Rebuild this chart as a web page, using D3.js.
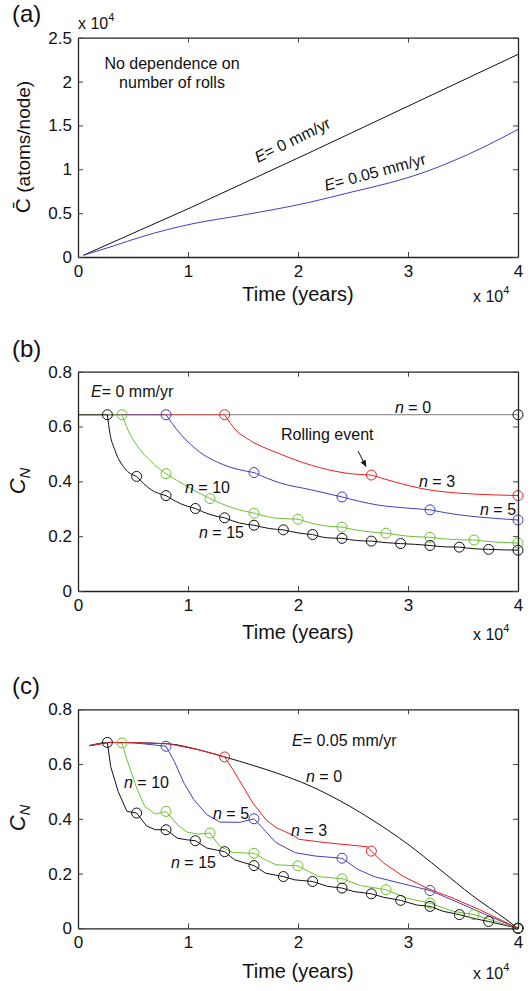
<!DOCTYPE html>
<html>
<head>
<meta charset="utf-8">
<script src="https://cdn.jsdelivr.net/npm/d3@7"></script>
<style>
  body { margin: 0; background: #fff; }
  svg { display: block; }
  text { font-family: "Liberation Sans", Arial, Helvetica, sans-serif; fill: #111; }
</style>
</head>
<body>
<svg id="fig" width="531" height="991"></svg>
<script>
// ---------- shared axis ticks (time in units of 10^4 years) ----------
const timeTicks = [0, 1, 2, 3, 4];
const timeTickLabels = ["0", "1", "2", "3", "4"];
const cbarTicks = [0, 0.5, 1, 1.5, 2, 2.5];
const cbarTickLabels = ["0", "0.5", "1", "1.5", "2", "2.5"];
const cnTicks = [0, 0.2, 0.4, 0.6, 0.8];
const cnTickLabels = ["0", "0.2", "0.4", "0.6", "0.8"];

// ---------- (a) mean concentration, units of 10^4 atoms/node ----------
const aTimeE0 = [0.05, 1.03, 2.09, 4.0];
const aConcE0 = [0.02, 0.566, 1.181, 2.31];
const aTimeE05 = [0.05, 0.3, 0.6, 1.03, 1.5, 2.09, 2.5, 2.8, 3.0, 3.2, 3.4, 3.7, 4.0];
const aConcE05 = [0.02, 0.117, 0.239, 0.376, 0.478, 0.619, 0.744, 0.835, 0.905, 0.99, 1.09, 1.26, 1.455];

// ---------- (b) normalised concentration, E = 0 ----------
const bTime0 = [0, 4];
const bConc0 = [0.643, 0.643];
const bRollT0 = [4];
const bRollC0 = [0.643];

const bTime3 = [0, 1.333, 1.44, 1.53, 1.83, 2.12, 2.42, 2.667, 2.87, 3.16, 3.46, 3.76, 4.0];
const bConc3 = [0.643, 0.643, 0.585, 0.558, 0.501, 0.459, 0.431, 0.423, 0.399, 0.371, 0.357, 0.351, 0.348];
const bRollT3 = [1.333, 2.667, 4.0];
const bRollC3 = [0.643, 0.423, 0.348];

const bTime5 = [0, 0.8, 0.9, 1.08, 1.32, 1.6, 1.83, 2.12, 2.4, 2.72, 3.01, 3.2, 3.46, 3.76, 4.0];
const bConc5 = [0.643, 0.643, 0.588, 0.515, 0.461, 0.432, 0.395, 0.369, 0.343, 0.314, 0.302, 0.296, 0.278, 0.266, 0.259];
const bRollT5 = [0.8, 1.6, 2.4, 3.2, 4.0];
const bRollC5 = [0.643, 0.432, 0.343, 0.296, 0.259];

const bTime10 = [0, 0.4, 0.454, 0.543, 0.663, 0.8, 0.99, 1.2, 1.41, 1.6, 1.8, 2.0, 2.18, 2.4, 2.6, 2.8, 3.0, 3.2, 3.4, 3.6, 3.82, 4.0];
const bConc10 = [0.643, 0.643, 0.588, 0.527, 0.473, 0.428, 0.382, 0.337, 0.303, 0.284, 0.266, 0.262, 0.242, 0.233, 0.218, 0.211, 0.2, 0.196, 0.188, 0.186, 0.178, 0.175];
const bRollT10 = [0.4, 0.8, 1.2, 1.6, 2.0, 2.4, 2.8, 3.2, 3.6, 4.0];
const bRollC10 = [0.643, 0.428, 0.337, 0.284, 0.262, 0.233, 0.211, 0.196, 0.186, 0.175];

const bTime15 = [0, 0.267, 0.29, 0.334, 0.424, 0.533, 0.663, 0.8, 0.93, 1.067, 1.2, 1.333, 1.47, 1.6, 1.74, 1.867, 2.0, 2.133, 2.27, 2.4, 2.54, 2.667, 2.81, 2.933, 3.07, 3.2, 3.34, 3.467, 3.61, 3.733, 3.88, 4.0];
const bConc15 = [0.643, 0.643, 0.576, 0.515, 0.448, 0.418, 0.37, 0.348, 0.319, 0.301, 0.279, 0.267, 0.248, 0.24, 0.228, 0.223, 0.212, 0.206, 0.194, 0.192, 0.184, 0.182, 0.176, 0.173, 0.17, 0.166, 0.161, 0.16, 0.154, 0.152, 0.15, 0.149];
const bRollT15 = [0.267, 0.533, 0.8, 1.067, 1.333, 1.6, 1.867, 2.133, 2.4, 2.667, 2.933, 3.2, 3.467, 3.733, 4.0];
const bRollC15 = [0.643, 0.418, 0.348, 0.301, 0.267, 0.24, 0.223, 0.206, 0.192, 0.182, 0.173, 0.166, 0.16, 0.152, 0.149];

// ---------- (c) normalised concentration, E = 0.05 mm/yr ----------
const cTime0 = [0.1, 0.28, 0.5, 0.82, 1.1, 1.333, 1.6, 1.8, 2.1, 2.39, 2.69, 2.99, 3.29, 3.59, 3.89, 4.0];
const cConc0 = [0.667, 0.679, 0.678, 0.674, 0.652, 0.626, 0.594, 0.568, 0.522, 0.464, 0.392, 0.31, 0.215, 0.118, 0.033, 0.0];
const cRollT0 = [4.0];
const cRollC0 = [0.0];

const cTime3 = [0.1, 0.28, 0.5, 0.82, 1.1, 1.333, 1.41, 1.5, 1.59, 1.71, 1.8, 1.95, 2.01, 2.25, 2.63, 2.667, 2.78, 2.96, 3.17, 3.41, 3.65, 4.0];
const cConc3 = [0.667, 0.679, 0.678, 0.674, 0.652, 0.626, 0.579, 0.518, 0.457, 0.396, 0.368, 0.341, 0.325, 0.313, 0.298, 0.282, 0.238, 0.189, 0.147, 0.11, 0.068, 0.0];
const cRollT3 = [1.333, 2.667, 4.0];
const cRollC3 = [0.626, 0.282, 0.0];

const cTime5 = [0.1, 0.28, 0.5, 0.8, 0.875, 0.964, 1.053, 1.172, 1.29, 1.47, 1.6, 1.706, 1.8, 1.976, 2.155, 2.4, 2.54, 2.69, 2.93, 3.2, 3.47, 3.74, 4.0];
const cConc5 = [0.667, 0.679, 0.678, 0.665, 0.61, 0.53, 0.47, 0.415, 0.388, 0.387, 0.4, 0.354, 0.313, 0.276, 0.264, 0.256, 0.216, 0.189, 0.165, 0.138, 0.092, 0.044, 0.0];
const cRollT5 = [0.8, 1.6, 2.4, 3.2, 4.0];
const cRollC5 = [0.665, 0.4, 0.256, 0.138, 0.0];

const cTime10 = [0.1, 0.28, 0.4, 0.445, 0.534, 0.608, 0.703, 0.8, 0.905, 0.994, 1.098, 1.2, 1.29, 1.41, 1.6, 1.706, 1.8, 2.0, 2.185, 2.4, 2.57, 2.8, 2.99, 3.2, 3.41, 3.6, 4.0];
const cConc10 = [0.667, 0.679, 0.677, 0.616, 0.512, 0.445, 0.417, 0.427, 0.378, 0.351, 0.344, 0.348, 0.299, 0.277, 0.274, 0.25, 0.232, 0.228, 0.189, 0.181, 0.156, 0.141, 0.11, 0.092, 0.062, 0.05, 0.0];
const cRollT10 = [0.4, 0.8, 1.2, 1.6, 2.0, 2.4, 2.8, 3.2, 3.6, 4.0];
const cRollC10 = [0.677, 0.427, 0.348, 0.274, 0.228, 0.181, 0.141, 0.092, 0.05, 0.0];

const cTime15 = [0.1, 0.267, 0.297, 0.365, 0.445, 0.533, 0.623, 0.703, 0.8, 0.905, 0.994, 1.067, 1.172, 1.333, 1.424, 1.6, 1.706, 1.867, 1.97, 2.133, 2.27, 2.4, 2.51, 2.667, 2.78, 2.933, 3.08, 3.2, 3.32, 3.467, 3.62, 3.733, 4.0];
const cConc15 = [0.667, 0.679, 0.591, 0.5, 0.427, 0.421, 0.374, 0.36, 0.36, 0.329, 0.323, 0.32, 0.293, 0.28, 0.25, 0.229, 0.201, 0.189, 0.177, 0.171, 0.153, 0.147, 0.134, 0.126, 0.113, 0.102, 0.085, 0.08, 0.062, 0.05, 0.034, 0.025, 0.0];
const cRollT15 = [0.267, 0.533, 0.8, 1.067, 1.333, 1.6, 1.867, 2.133, 2.4, 2.667, 2.933, 3.2, 3.467, 3.733, 4.0];
const cRollC15 = [0.679, 0.421, 0.36, 0.32, 0.28, 0.229, 0.189, 0.171, 0.147, 0.126, 0.102, 0.08, 0.05, 0.025, 0.0];

// ---------- colours ----------
const RED = "#ee1c1c", BLUE = "#4040bd", GREEN = "#6cc230", BLACK = "#111", GREY = "#7a7a7a";

const svg = d3.select("#fig");
const X_LEFT = 78, X_RIGHT = 518;

const defs = svg.append("defs");
defs.append("marker").attr("id", "arrowhead")
  .attr("viewBox", "0 0 10 10").attr("refX", 9).attr("refY", 5)
  .attr("markerWidth", 7).attr("markerHeight", 7).attr("orient", "auto")
  .append("path").attr("d", "M0,1 L10,5 L0,9 Z").attr("fill", "#111");

function styleAxis(g, fontSize) {
  g.attr("font-family", null).attr("font-size", null);
  g.selectAll(".tick line").attr("stroke", "#444").attr("stroke-width", 1);
  g.selectAll(".domain").attr("stroke", "#222").attr("stroke-width", 1.3);
  g.selectAll("text").attr("font-size", fontSize).style("fill", "#111");
}

// Boxed axes with inward ticks on all four sides
function drawFrame(g, x, y, yTicks, yLabels) {
  const [yb, yt] = y.range();
  const bottom = g.append("g").attr("transform", `translate(0,${yb})`)
    .call(d3.axisBottom(x).tickValues(timeTicks).tickFormat((d, i) => timeTickLabels[i])
      .tickSizeInner(-5).tickSizeOuter(0).tickPadding(8));
  styleAxis(bottom, 17);
  const top = g.append("g").attr("transform", `translate(0,${yt})`)
    .call(d3.axisTop(x).tickValues(timeTicks).tickFormat("").tickSizeInner(-5).tickSizeOuter(0));
  styleAxis(top, 17);
  const left = g.append("g").attr("transform", `translate(${X_LEFT},0)`)
    .call(d3.axisLeft(y).tickValues(yTicks).tickFormat((d, i) => yLabels[i])
      .tickSizeInner(-5).tickSizeOuter(0).tickPadding(6));
  styleAxis(left, 17);
  const right = g.append("g").attr("transform", `translate(${X_RIGHT},0)`)
    .call(d3.axisRight(y).tickValues(yTicks).tickFormat("").tickSizeInner(-5).tickSizeOuter(0));
  styleAxis(right, 17);
}

// Text made of plain / italic runs
function richText(g, x, y, parts, size, anchor, rotate) {
  const t = g.append("text").attr("x", x).attr("y", y).attr("font-size", size)
    .attr("text-anchor", anchor || "start");
  if (rotate) t.attr("transform", `rotate(${rotate},${x},${y})`);
  parts.forEach(p => {
    const s = t.append("tspan").text(p[0]);
    if (p[1]) s.attr("font-style", "italic");
  });
  return t;
}

function timeTitle(g, yBase) {
  g.append("text").attr("x", (X_LEFT + X_RIGHT) / 2).attr("y", yBase)
    .attr("text-anchor", "middle").attr("font-size", 20).text("Time (years)");
  const e = g.append("text").attr("x", 473).attr("y", yBase + 1).attr("font-size", 16);
  e.append("tspan").text("x 10");
  e.append("tspan").attr("dy", -8).attr("font-size", 11).text("4");
}

function panelTag(g, txt, yBase) {
  g.append("text").attr("x", 12).attr("y", yBase).attr("font-size", 24).text(txt);
}

function zip(ts, cs) { return ts.map((t, i) => [t, cs[i]]); }

// Split a series into the stretch before its first roll and the pieces between rolls
function splitAtRolls(ts, cs, rolls) {
  const pts = zip(ts, cs);
  const idx = rolls.map(r => ts.findIndex(t => Math.abs(t - r) < 1e-3)).filter(i => i >= 0);
  const pieces = [];
  let start = 0;
  idx.forEach((k, j) => {
    if (k > start) pieces.push({ pre: j === 0, pts: pts.slice(start, k + 1) });
    start = k;
  });
  return pieces;
}

function drawMarkers(g, x, y, s) {
  g.append("g").selectAll("circle").data(zip(s.rt, s.rc)).join("circle")
    .attr("cx", d => x(d[0])).attr("cy", d => y(d[1])).attr("r", 5)
    .attr("fill", "none").attr("stroke", s.col).attr("stroke-width", 1);
}

// ================= (a) =================
{
  const g = svg.append("g");
  const x = d3.scaleLinear().domain([0, 4]).range([X_LEFT, X_RIGHT]);
  const y = d3.scaleLinear().domain([0, 2.5]).range([257, 37.7]);
  panelTag(g, "(a)", 22);
  const straight = d3.line().x(d => x(d[0])).y(d => y(d[1]));
  const smooth = d3.line().x(d => x(d[0])).y(d => y(d[1])).curve(d3.curveMonotoneX);
  g.append("path").attr("d", straight(zip(aTimeE0, aConcE0))).attr("fill", "none")
    .attr("stroke", BLACK).attr("stroke-width", 1);
  g.append("path").attr("d", smooth(zip(aTimeE05, aConcE05))).attr("fill", "none")
    .attr("stroke", BLUE).attr("stroke-width", 1);
  drawFrame(g, x, y, cbarTicks, cbarTickLabels);

  const mult = g.append("text").attr("x", 78).attr("y", 29).attr("font-size", 16);
  mult.append("tspan").text("x 10");
  mult.append("tspan").attr("dy", -8).attr("font-size", 11).text("4");

  const yl = g.append("text").attr("transform", "translate(30,147) rotate(-90)")
    .attr("text-anchor", "middle").attr("font-size", 19);
  yl.append("tspan").attr("font-size", 21).text("C\u0304");
  yl.append("tspan").text(" (atoms/node)");

  g.append("text").attr("x", 172).attr("y", 69).attr("text-anchor", "middle")
    .attr("font-size", 16).text("No dependence on");
  g.append("text").attr("x", 172).attr("y", 88).attr("text-anchor", "middle")
    .attr("font-size", 16).text("number of rolls");
  richText(g, 258, 163, [["E", true], ["= 0 mm/yr", false]], 16, "start", -26);
  richText(g, 326, 191, [["E", true], ["= 0.05 mm/yr", false]], 16, "start", -15);
  timeTitle(g, 301);
}

// ================= (b) =================
{
  const g = svg.append("g");
  const x = d3.scaleLinear().domain([0, 4]).range([X_LEFT, X_RIGHT]);
  const y = d3.scaleLinear().domain([0, 0.8]).range([591, 371.7]);
  panelTag(g, "(b)", 357);
  const smooth = d3.line().x(d => x(d[0])).y(d => y(d[1])).curve(d3.curveMonotoneX);
  const straight = d3.line().x(d => x(d[0])).y(d => y(d[1]));

  g.append("path").attr("d", straight(zip(bTime0, bConc0))).attr("fill", "none")
    .attr("stroke", GREY).attr("stroke-width", 1);

  const series = [
    { ts: bTime3, cs: bConc3, rt: bRollT3, rc: bRollC3, col: RED },
    { ts: bTime5, cs: bConc5, rt: bRollT5, rc: bRollC5, col: BLUE },
    { ts: bTime10, cs: bConc10, rt: bRollT10, rc: bRollC10, col: GREEN },
    { ts: bTime15, cs: bConc15, rt: bRollT15, rc: bRollC15, col: BLACK }
  ];
  series.forEach(s => {
    splitAtRolls(s.ts, s.cs, s.rt).forEach(p => {
      g.append("path").attr("d", p.pre ? straight(p.pts) : smooth(p.pts))
        .attr("fill", "none").attr("stroke", s.col).attr("stroke-width", 1)
        .attr("stroke-opacity", p.pre ? 0.55 : 1);
    });
  });
  drawMarkers(g, x, y, { rt: bRollT0, rc: bRollC0, col: BLACK });
  series.forEach(s => drawMarkers(g, x, y, s));
  drawFrame(g, x, y, cnTicks, cnTickLabels);

  const yl = g.append("text").attr("transform", "translate(25,481) rotate(-90)")
    .attr("text-anchor", "middle").attr("font-size", 22);
  yl.append("tspan").attr("font-style", "italic").text("C");
  yl.append("tspan").attr("font-style", "italic").attr("font-size", 15).attr("dy", 5).text("N");

  richText(g, 91, 397, [["E", true], ["= 0 mm/yr", false]], 16);
  richText(g, 395, 413, [["n", true], [" = 0", false]], 16);
  g.append("text").attr("x", 281).attr("y", 440).attr("font-size", 16).text("Rolling event");
  g.append("line").attr("x1", 358).attr("y1", 451).attr("x2", 366).attr("y2", 466.5)
    .attr("stroke", "#111").attr("stroke-width", 1).attr("marker-end", "url(#arrowhead)");
  richText(g, 419, 486.5, [["n", true], [" = 3", false]], 16);
  richText(g, 480, 515, [["n", true], [" = 5", false]], 16);
  richText(g, 185, 493, [["n", true], [" = 10", false]], 16);
  richText(g, 199, 538, [["n", true], [" = 15", false]], 16);
  timeTitle(g, 639);
}

// ================= (c) =================
{
  const g = svg.append("g");
  const x = d3.scaleLinear().domain([0, 4]).range([X_LEFT, X_RIGHT]);
  const y = d3.scaleLinear().domain([0, 0.8]).range([928.3, 709.3]);
  panelTag(g, "(c)", 694);
  const smooth = d3.line().x(d => x(d[0])).y(d => y(d[1])).curve(d3.curveMonotoneX);
  const straight = d3.line().x(d => x(d[0])).y(d => y(d[1]));

  g.append("path").attr("d", smooth(zip(cTime0, cConc0))).attr("fill", "none")
    .attr("stroke", BLACK).attr("stroke-width", 1);

  const series = [
    { ts: cTime15, cs: cConc15, rt: cRollT15, rc: cRollC15, col: BLACK },
    { ts: cTime10, cs: cConc10, rt: cRollT10, rc: cRollC10, col: GREEN },
    { ts: cTime5, cs: cConc5, rt: cRollT5, rc: cRollC5, col: BLUE },
    { ts: cTime3, cs: cConc3, rt: cRollT3, rc: cRollC3, col: RED }
  ];
  series.forEach(s => {
    g.append("path").attr("d", straight(zip(s.ts, s.cs))).attr("fill", "none")
      .attr("stroke", s.col).attr("stroke-width", 1);
  });
  // coloured rings first, the unrolled (n = 0) ring on top at the end point
  series.slice().reverse().forEach(s => drawMarkers(g, x, y, s));
  drawMarkers(g, x, y, { rt: cRollT0, rc: cRollC0, col: "#2a2a10" });
  drawFrame(g, x, y, cnTicks, cnTickLabels);

  const yl = g.append("text").attr("transform", "translate(25,818) rotate(-90)")
    .attr("text-anchor", "middle").attr("font-size", 22);
  yl.append("tspan").attr("font-style", "italic").text("C");
  yl.append("tspan").attr("font-style", "italic").attr("font-size", 15).attr("dy", 5).text("N");

  richText(g, 292, 745.5, [["E", true], ["= 0.05 mm/yr", false]], 16);
  richText(g, 306, 782, [["n", true], [" = 0", false]], 16);
  richText(g, 124, 787.5, [["n", true], [" = 10", false]], 16);
  richText(g, 213, 819, [["n", true], [" = 5", false]], 16);
  richText(g, 291, 835.5, [["n", true], [" = 3", false]], 16);
  richText(g, 171, 867.5, [["n", true], [" = 15", false]], 16);
  timeTitle(g, 978);
}
</script>
</body>
</html>
